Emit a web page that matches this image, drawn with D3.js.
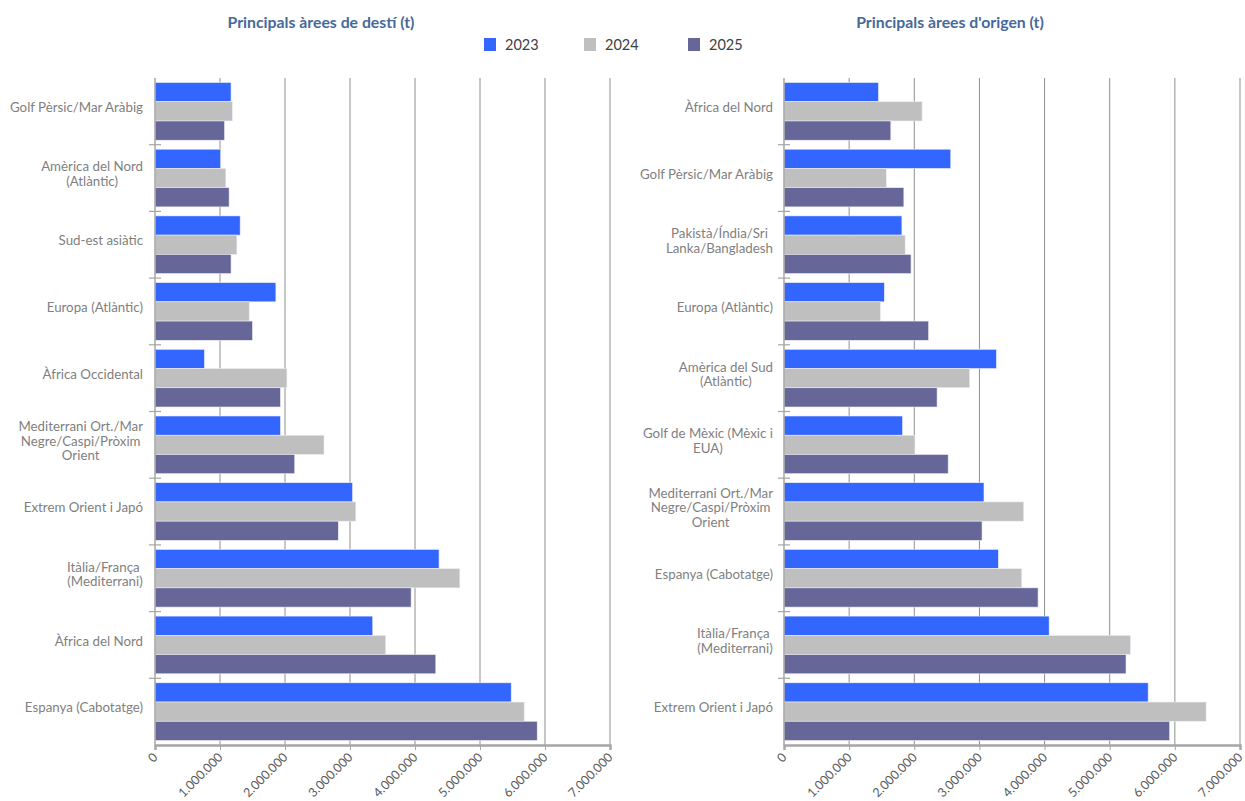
<!DOCTYPE html>
<html>
<head>
<meta charset="utf-8">
<script src="https://cdn.jsdelivr.net/npm/d3@7"></script>
<style>
  body { margin: 0; background: #fff; }
  svg text { font-family: Lato, "Open Sans", sans-serif; }
</style>
</head>
<body>
<svg id="chart" width="1245" height="801"></svg>
<script>
// series / categories
const years = ["2023", "2024", "2025"];
const yearColors = ["#3366ff", "#bfbfbf", "#666699"];

const destCategories = [
  "Golf Pèrsic/Mar Aràbig",
  "Amèrica del Nord\n(Atlàntic)",
  "Sud-est asiàtic",
  "Europa (Atlàntic)",
  "Àfrica Occidental",
  "Mediterrani Ort./Mar\nNegre/Caspi/Pròxim\nOrient",
  "Extrem Orient i Japó",
  "Itàlia/França \n(Mediterrani)",
  "Àfrica del Nord",
  "Espanya (Cabotatge)"
];
const dest2023 = [1170000, 1010000, 1310000, 1860000, 760000, 1930000, 3040000, 4370000, 3350000, 5480000];
const dest2024 = [1190000, 1090000, 1260000, 1450000, 2030000, 2600000, 3090000, 4690000, 3550000, 5680000];
const dest2025 = [1070000, 1140000, 1170000, 1500000, 1930000, 2150000, 2820000, 3940000, 4320000, 5880000];

const origCategories = [
  "Àfrica del Nord",
  "Golf Pèrsic/Mar Aràbig",
  "Pakistà/Índia/Sri\nLanka/Bangladesh",
  "Europa (Atlàntic)",
  "Amèrica del Sud\n(Atlàntic)",
  "Golf de Mèxic (Mèxic i\nEUA)",
  "Mediterrani Ort./Mar\nNegre/Caspi/Pròxim\nOrient",
  "Espanya (Cabotatge)",
  "Itàlia/França \n(Mediterrani)",
  "Extrem Orient i Japó"
];
const orig2023 = [1450000, 2560000, 1810000, 1540000, 3260000, 1820000, 3070000, 3290000, 4070000, 5590000];
const orig2024 = [2120000, 1570000, 1860000, 1480000, 2850000, 2010000, 3680000, 3650000, 5320000, 6480000];
const orig2025 = [1640000, 1840000, 1950000, 2220000, 2350000, 2520000, 3040000, 3900000, 5250000, 5920000];

const xTicks = [0, 1000000, 2000000, 3000000, 4000000, 5000000, 6000000, 7000000];

const locale = d3.formatLocale({ decimal: ",", thousands: ".", grouping: [3], currency: ["", " €"] });
const fmt = locale.format(",");

const svg = d3.select("#chart");

function drawPanel(cfg) {
  const top = 78, bottom = 745;
  const x = d3.scaleLinear().domain([0, 7000000]).range([cfg.x0, cfg.x1]);
  const y = d3.scaleBand().domain(cfg.categories).range([top, bottom]);
  const yy = d3.scaleBand().domain(years).range([4.5, y.bandwidth() - 4.5]);

  const g = svg.append("g");

  // title
  g.append("text")
    .attr("x", cfg.titleX).attr("y", 28)
    .attr("text-anchor", "middle")
    .attr("font-size", 15.8).attr("font-weight", "bold")
    .attr("fill", "#46699b")
    .text(cfg.title);

  // gridlines
  g.selectAll("line.grid")
    .data(xTicks.slice(1))
    .enter().append("line")
    .attr("class", "grid")
    .attr("x1", d => x(d)).attr("x2", d => x(d))
    .attr("y1", top).attr("y2", bottom)
    .attr("stroke", "#8f8f8f").attr("stroke-width", 1);

  // bars
  const rows = cfg.categories.map((c, i) => ({ cat: c, vals: cfg.series.map(s => s[i]) }));
  const rowG = g.selectAll("g.row")
    .data(rows)
    .enter().append("g")
    .attr("transform", d => `translate(0,${y(d.cat)})`);

  rowG.selectAll("rect")
    .data(d => d.vals.map((v, k) => ({ year: years[k], v: v, k: k })))
    .enter().append("rect")
    .attr("x", x(0))
    .attr("y", d => yy(d.year))
    .attr("width", d => x(d.v) - x(0))
    .attr("height", yy.bandwidth())
    .attr("fill", d => yearColors[d.k])
    .attr("stroke", "#eeeef4").attr("stroke-width", 0.6);

  // left axis line + category ticks
  g.append("line")
    .attr("x1", x(0)).attr("x2", x(0))
    .attr("y1", top).attr("y2", bottom)
    .attr("stroke", "#a6a6a6").attr("stroke-width", 1.5);
  const bounds = d3.range(1, cfg.categories.length).map(i => y(cfg.categories[i]));
  g.selectAll("line.ctick")
    .data(bounds)
    .enter().append("line")
    .attr("x1", x(0) - 6).attr("x2", x(0) + 6)
    .attr("y1", d => d).attr("y2", d => d)
    .attr("stroke", "#a6a6a6").attr("stroke-width", 1.2);

  // bottom axis
  const ax = g.append("g")
    .attr("transform", `translate(0,${bottom})`)
    .call(d3.axisBottom(x).tickValues(xTicks).tickSize(5).tickFormat(fmt));
  ax.select(".domain").attr("stroke", "#a6a6a6").attr("stroke-width", 2.5);
  ax.selectAll(".tick line").attr("stroke", "#a6a6a6");
  ax.selectAll(".tick text")
    .attr("font-size", 12.5)
    .attr("fill", "#595959")
    .attr("text-anchor", "end")
    .attr("dy", null).attr("y", null)
    .attr("transform", "translate(3,13) rotate(-45)");

  // category labels (line blocks centred, right aligned to the axis)
  rowG.each(function (d) {
    const lines = d.cat.split("\n");
    const lh = 14.5;
    const cy = y.bandwidth() / 2 - 4;
    const t = d3.select(this).append("text")
      .attr("font-size", 13.3)
      .attr("fill", "#7f7f7f")
      .attr("text-anchor", "middle");
    const spans = lines.map((ln, i) => t.append("tspan")
      .attr("y", cy + (i - (lines.length - 1) / 2) * lh)
      .attr("dy", "0.35em")
      .text(ln));
    const w = d3.max(spans, s => s.node().getComputedTextLength());
    spans.forEach(s => s.attr("x", cfg.labelRight - w / 2));
  });
}

drawPanel({
  title: "Principals àrees de destí (t)", titleX: 321,
  x0: 155, x1: 610, labelRight: 143,
  categories: destCategories, series: [dest2023, dest2024, dest2025]
});
drawPanel({
  title: "Principals àrees d'origen (t)", titleX: 950,
  x0: 784, x1: 1240, labelRight: 773,
  categories: origCategories, series: [orig2023, orig2024, orig2025]
});

// legend
const legendX = [484, 584, 688];
const leg = svg.append("g").selectAll("g")
  .data(years)
  .enter().append("g")
  .attr("transform", (d, i) => `translate(${legendX[i]},38)`);
leg.append("rect").attr("width", 12).attr("height", 13)
  .attr("fill", (d, i) => yearColors[i]);
leg.append("text").attr("x", 21).attr("y", 12)
  .attr("font-size", 14.5).attr("fill", "#404040")
  .text(d => d);
</script>
</body>
</html>
